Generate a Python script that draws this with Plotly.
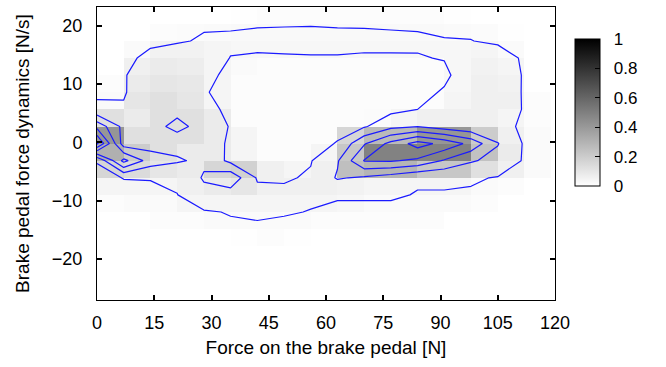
import plotly.graph_objects as go

# grid (vertex) coordinates shared by both layers
force_x = [0, 7, 14, 21, 28, 35, 42, 49, 56, 63, 70, 77, 84, 91, 98, 105, 112, 119]
dyn_y = [-26.57, -23.64, -20.71, -17.78, -14.85, -11.92, -8.99, -6.06, -3.13,
         -0.2, 2.73, 5.66, 8.59, 11.52, 14.45, 17.38, 20.31, 23.24]

# --- smoothed density at grid vertices (contour lines), bottom row first
dens_m26 = [0, 0, 0, 0, 0, 0, 0, 0, 0, 0, 0, 0, 0, 0, 0, 0, 0, 0]
dens_m24 = [0, 0, 0, 0, 0, 0, 0, 0, 0, 0, 0, 0, 0, 0, 0, 0, 0, 0]
dens_m21 = [0, 0, 0, 0, 0, 0, .003, 0, 0, 0, 0, 0, 0, 0, 0, 0, 0, 0]
dens_m18 = [0, 0, 0, .005, .005, .005, .01, .005, .005, .005, .005, .005, .005, .005, 0, 0, 0, 0]
dens_m15 = [0, .005, .005, .01, .01, .015, .02, .015, .01, .01, .01, .01, .01, .01, .005, 0, 0, 0]
dens_m12 = [.005, .01, .01, .015, .021, .035, .04, .035, .028, .02, .02, .02, .02, .02, .01, .005, 0, 0]
dens_m9 = [.01, .02, .025, .028, .10, .081, .06, .05, .04, .035, .035, .035, .028, .028, .02, .01, .005, 0]
dens_m6 = [.02, .031, .031, .05, .14, .20, .02, .02, .04, .14, .115, .08, .035, .035, .04, .025, .01, .005]
dens_m3 = [.032, .36, .18, .14, .112, .005, .005, .005, .025, .12, .335, .34, .31, .22, .14, .10, .02, .005]
dens_0 = [.55, .077, .09, .10, .10, .01, .005, .005, .01, .033, .22, .36, .47, .40, .30, .135, .02, .005]
dens_3 = [.30, .10, .11, .145, .11, .022, .01, .01, .01, .015, .02, .10, .128, .082, .05, .05, .02, .005]
dens_6 = [.043, .036, .09, .115, .06, .01, .005, .005, .005, .01, .01, .005, .03, .05, .07, .07, .025, .005]
dens_9 = [.02, .025, .07, .08, .035, .01, .01, .01, .01, .01, .01, .012, .015, .035, .06, .065, .025, .005]
dens_12 = [.008, .026, .06, .07, .05, .013, .01, .01, .01, .01, .01, .012, .015, .02, .06, .06, .026, .005]
dens_14 = [.01, .01, .05, .06, .05, .029, .024, .024, .026, .027, .025, .026, .0275, .032, .05, .057, .022, .005]
dens_17 = [.008, .01, .015, .025, .035, .037, .043, .048, .048, .043, .041, .039, .036, .032, .031, .022, .008, .004]
dens_20 = [.005, .008, .01, .015, .025, .025, .026, .026, .027, .026, .026, .025, .025, .022, .02, .015, .005, 0]
dens_23 = [0, 0, 0, 0, .005, .01, .01, .01, .01, .01, .01, .01, .01, .008, .005, 0, 0, 0]

density = [dens_m26, dens_m24, dens_m21, dens_m18, dens_m15, dens_m12, dens_m9, dens_m6, dens_m3,
           dens_0, dens_3, dens_6, dens_9, dens_12, dens_14, dens_17, dens_20, dens_23]

# --- binned (raw) density per cell, 17 x 17, bottom row first
bin_r0 = [0] * 17
bin_r1 = [0] * 17
bin_r2 = [0] * 17
bin_r3 = [0, 0, 0, 0, 0, .005, .01, .005, 0, 0, 0, 0, 0, 0, 0, 0, 0]
bin_r4 = [0, 0, .01, .01, .02, .02, .02, .02, .01, .01, .01, .01, .01, 0, 0, 0, 0]
bin_r5 = [.01, .02, .02, .04, .04, .04, .04, .04, .04, .03, .02, .02, .02, .02, .01, 0, 0]
bin_r6 = [.04, .04, .04, .06, .08, .10, .06, .06, .06, .05, .04, .04, .04, .04, .02, .01, 0]
bin_r7 = [.16, .14, .10, .08, .16, .18, .06, .04, .06, .25, .29, .29, .22, .22, .12, .06, .02]
bin_r8 = [.31, .20, .12, .08, .08, .04, .01, .01, .04, .22, .49, .49, .49, .49, .24, .08, .02]
bin_r9 = [.41, .12, .12, .12, .08, .04, .01, .01, .01, .16, .27, .27, .41, .41, .20, .06, .02]
bin_r10 = [.12, .08, .12, .12, .08, .01, .01, .01, .01, .01, .015, .04, .06, .06, .06, .04, .01]
bin_r11 = [.02, .10, .12, .10, .04, .01, .01, .01, .01, .01, .01, .01, .01, .04, .06, .06, .01]
bin_r12 = [.01, .08, .10, .09, .04, .01, .01, .01, .01, .01, .01, .01, .01, .03, .06, .05, 0]
bin_r13 = [0, .06, .08, .07, .04, .02, .01, .01, .01, .01, .01, .01, .01, .03, .05, .04, 0]
bin_r14 = [0, .02, .05, .05, .04, .03, .03, .03, .03, .03, .03, .03, .03, .03, .04, .02, 0]
bin_r15 = [0, 0, .01, .015, .02, .025, .025, .025, .025, .025, .025, .025, .025, .02, .015, .005, 0]
bin_r16 = [0, 0, 0, 0, 0, .005, .01, .01, .01, .01, .01, .01, .01, .005, 0, 0, 0]

binned = [bin_r0, bin_r1, bin_r2, bin_r3, bin_r4, bin_r5, bin_r6, bin_r7, bin_r8,
          bin_r9, bin_r10, bin_r11, bin_r12, bin_r13, bin_r14, bin_r15, bin_r16]

contour_start, contour_end, contour_step = 0.03, 0.63, 0.1

x_ticks = [0, 15, 30, 45, 60, 75, 90, 105, 120]
y_ticks = [-20, -10, 0, 10, 20]
cb_ticks = [0, 0.2, 0.4, 0.6, 0.8, 1]
cb_labels = ["0", "0.2", "0.4", "0.6", "0.8", "1"]

FONT = "Liberation Sans, Arial, Helvetica, sans-serif"
NBSP = "\u00a0"

fig = go.Figure()
fig.add_trace(go.Heatmap(
    x=force_x, y=dyn_y, z=binned, zmin=0, zmax=1,
    colorscale=[[0, "rgb(255,255,255)"], [1, "rgb(0,0,0)"]],
    colorbar=dict(
        x=(575 - 97) / 458, xanchor="left", xref="paper",
        y=(300 - 39) / 293, yanchor="top", yref="paper",
        len=(186 - 39) / 293, lenmode="fraction",
        thickness=25, thicknessmode="pixels",
        outlinewidth=1, outlinecolor="black",
        tickvals=cb_ticks, ticktext=[NBSP * 2 + t for t in cb_labels],
        ticks="inside", ticklen=5, tickcolor="black",
        tickfont=dict(family=FONT, size=17, color="black"),
        xpad=0, ypad=0,
    ),
    hoverinfo="skip",
))
fig.add_trace(go.Contour(
    x=force_x, y=dyn_y, z=density,
    contours=dict(start=contour_start, end=contour_end, size=contour_step, coloring="none"),
    line=dict(color="#1a1aff", width=1.2, smoothing=0),
    showscale=False, hoverinfo="skip",
))

axis_common = dict(
    showline=True, linecolor="black", linewidth=1, mirror="allticks",
    ticks="inside", ticklen=5, tickcolor="black", tickwidth=1.5,
    showgrid=True, gridcolor="rgba(0,0,0,0.75)", griddash="dot", gridwidth=1,
    zeroline=False, automargin=False,
    tickfont=dict(family=FONT, size=18, color="black"),
)
fig.update_xaxes(range=[0, 120], tickvals=x_ticks, ticklabelstandoff=6,
                 title=dict(text="Force on the brake pedal [N]", font=dict(family=FONT, size=19, color="black"), standoff=9),
                 **axis_common)
fig.update_yaxes(range=[-27, 23.2], tickvals=y_ticks, ticklabelstandoff=10,
                 title=dict(text="Brake pedal force dynamics [N/s]", font=dict(family=FONT, size=19, color="black"), standoff=17),
                 **axis_common)
fig.update_layout(
    width=666, height=367,
    margin=dict(l=97, r=111, t=7, b=67),
    paper_bgcolor="white", plot_bgcolor="white",
    showlegend=False,
)
fig.write_html("out.html")
